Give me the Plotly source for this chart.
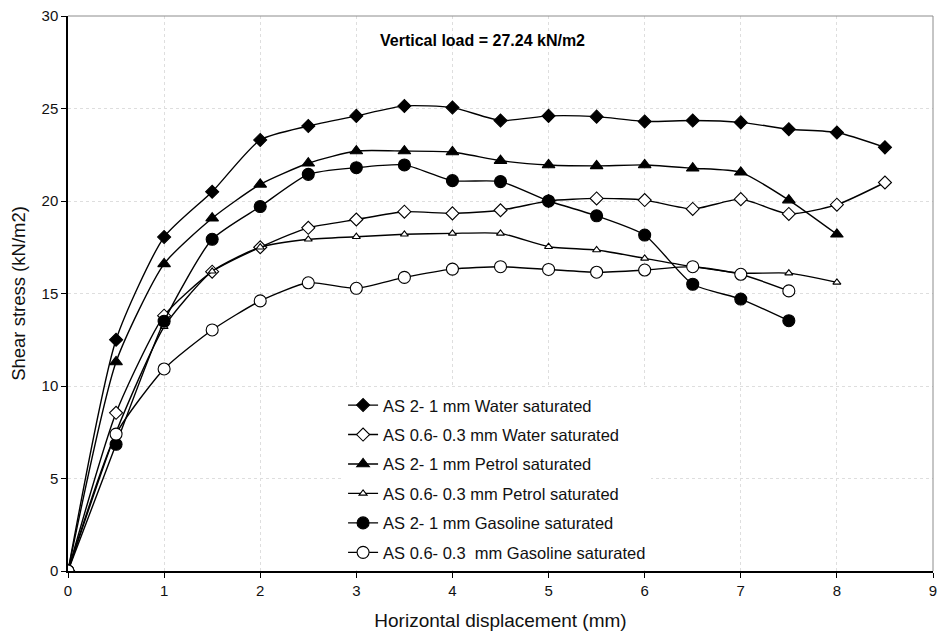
import plotly.graph_objects as go

x_full = [0, 0.5, 1, 1.5, 2, 2.5, 3, 3.5, 4, 4.5, 5, 5.5, 6, 6.5, 7, 7.5, 8, 8.5]

water_21 = [0, 12.5, 18.05, 20.5, 23.3, 24.05, 24.6, 25.14, 25.05, 24.35, 24.6, 24.56, 24.3, 24.35, 24.25, 23.88, 23.7, 22.9]
water_063 = [0, 8.55, 13.8, 16.18, 17.5, 18.55, 19.0, 19.42, 19.33, 19.5, 20.0, 20.14, 20.05, 19.57, 20.1, 19.3, 19.8, 21.0]
petrol_21 = [0, 11.3, 16.6, 19.07, 20.9, 22.04, 22.7, 22.7, 22.65, 22.18, 21.95, 21.9, 21.95, 21.77, 21.55, 20.05, 18.2]
petrol_063 = [0, 7.5, 13.2, 16.2, 17.5, 17.93, 18.07, 18.2, 18.25, 18.25, 17.53, 17.35, 16.9, 16.45, 16.1, 16.1, 15.6]
gas_21 = [0, 6.85, 13.5, 17.93, 19.7, 21.44, 21.8, 21.95, 21.1, 21.05, 20.0, 19.2, 18.16, 15.5, 14.7, 13.53]
gas_063 = [0, 7.4, 10.92, 13.03, 14.6, 15.58, 15.28, 15.87, 16.32, 16.45, 16.3, 16.15, 16.27, 16.45, 16.04, 15.14]

names = [
    "AS 2- 1 mm Water saturated",
    "AS 0.6- 0.3 mm Water saturated",
    "AS 2- 1 mm Petrol saturated",
    "AS 0.6- 0.3 mm Petrol saturated",
    "AS 2- 1 mm Gasoline saturated",
    "AS 0.6- 0.3  mm Gasoline saturated",
]
series = [water_21, water_063, petrol_21, petrol_063, gas_21, gas_063]
symbols = ["diamond", "diamond-open", "triangle-up", "triangle-up-open", "circle", "circle-open"]
sizes = [10, 10, 11, 7, 12, 12]

fig = go.Figure()
for i, (nm, ys, sym, sz) in enumerate(zip(names, series, symbols, sizes)):
    filled = not sym.endswith("open")
    fig.add_trace(go.Scatter(
        x=x_full[:len(ys)], y=ys, name=nm.replace("  ", "&nbsp; "), mode="lines+markers",
        line=dict(color="black", width=1.4, shape="spline", smoothing=0.6),
        marker=dict(symbol=sym.replace("-open", ""), size=sz,
                    color="black" if filled else "white",
                    line=dict(color="black", width=1.1)),
        legendgroup=f"g{i}",
    ))

fig.add_annotation(x=4.31, y=28.7, xref="x", yref="y", text="<b>Vertical load = 27.24 kN/m2</b>",
                   showarrow=False, font=dict(size=16, color="black"))

fig.add_shape(type="line", xref="paper", yref="paper", x0=0, x1=1, y0=1, y1=1,
              line=dict(color="#8c8c8c", width=1))
fig.add_shape(type="line", xref="paper", yref="paper", x0=1, x1=1, y0=0, y1=1,
              line=dict(color="#8c8c8c", width=1))

fig.update_layout(
    width=937, height=633,
    margin=dict(l=68, r=4, t=16, b=62),
    paper_bgcolor="white", plot_bgcolor="white",
    font=dict(family="Liberation Sans, Arial, sans-serif", size=15, color="#111111"),
    showlegend=True,
    legend=dict(x=0.318, y=0.33, xanchor="left", yanchor="top",
                bgcolor="white", borderwidth=0,
                font=dict(size=16.5), tracegroupgap=5, traceorder="grouped",
                itemwidth=30),
    xaxis=dict(range=[0, 9], dtick=1, tick0=0, showgrid=True, gridcolor="#dedede", griddash="dot",
               showline=True, linecolor="black", linewidth=1.5, ticks="outside", ticklen=5,
               tickcolor="black", zeroline=False, automargin=False, ticklabeloverflow="allow",
               title=dict(text="Horizontal displacement (mm)", font=dict(size=19), standoff=16)),
    yaxis=dict(range=[0, 30], dtick=5, tick0=0, showgrid=True, gridcolor="#dedede", griddash="dot",
               showline=True, linecolor="black", linewidth=1.5, ticks="outside", ticklen=5,
               tickcolor="black", zeroline=False, automargin=False, ticklabeloverflow="allow",
               title=dict(text="Shear stress (kN/m2)", font=dict(size=18.5), standoff=11)),
)

fig.write_html("out.html")
